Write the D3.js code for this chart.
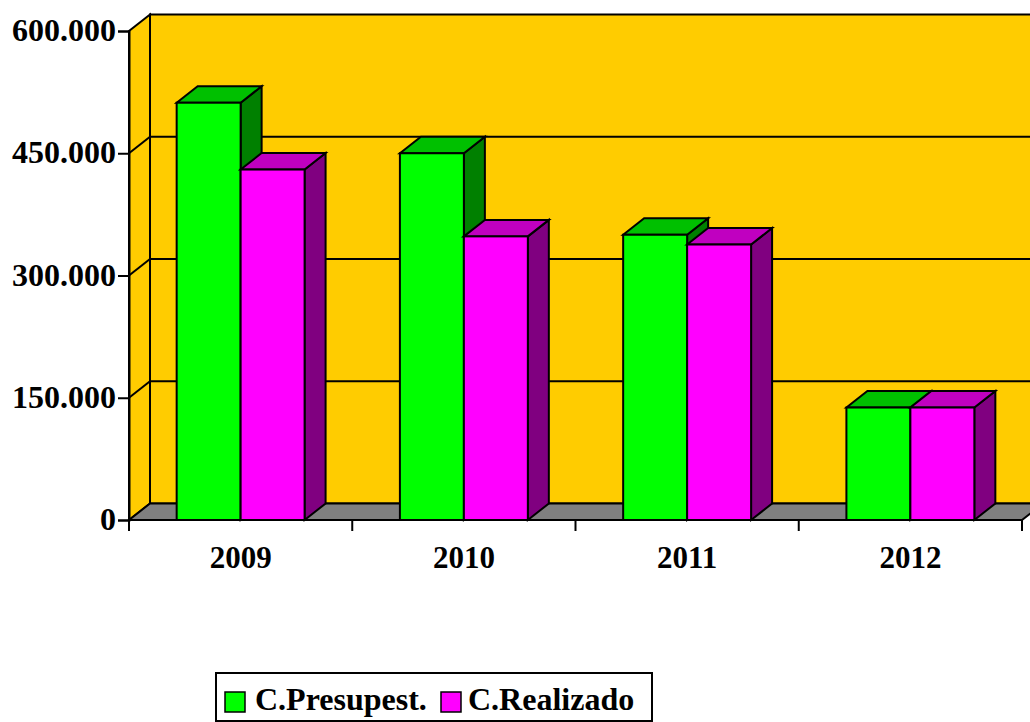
<!DOCTYPE html>
<html>
<head>
<meta charset="utf-8">
<script src="https://cdn.jsdelivr.net/npm/d3@7"></script>
<style>
  html, body { margin: 0; padding: 0; background: #ffffff; }
  svg { display: block; }
  text { font-family: "Liberation Serif", "Times New Roman", serif; font-weight: bold; fill: #000; }
</style>
</head>
<body>
<svg id="chart" width="1030" height="722"></svg>
<script>
// Budgeted vs. executed amounts per year
const years = ["2009", "2010", "2011", "2012"];
const seriesNames = ["C.Presupest.", "C.Realizado"];
const presupuestado = [512000, 450000, 350000, 138000];
const realizado = [430000, 348000, 338000, 138000];
const yTicks = [0, 150000, 300000, 450000, 600000];

// Face colours for each series: front, top, side
const palette = {
  "C.Presupest.": { front: "#00FF00", top: "#00C000", side: "#008000" },
  "C.Realizado": { front: "#FF00FF", top: "#C000C0", side: "#800080" }
};

const svg = d3.select("#chart");
const plotLeft = 129, plotRight = 1022, plotTop = 31, plotBottom = 520;
const dx = 21, dy = -16.5; // depth offset of the 3D box

const x0 = d3.scaleBand().domain(years).range([plotLeft, plotRight]).padding(0);
const bw = x0.bandwidth();
const gap = bw * 0.2135;
const x1 = d3.scaleBand().domain(seriesNames).range([gap, bw - gap]).padding(0);
const y = d3.scaleLinear().domain([0, 600000]).range([plotBottom, plotTop]);

const locale = d3.formatLocale({ decimal: ",", thousands: ".", grouping: [3], currency: ["", ""] });
const fmt = locale.format(",d");

const sw = 2;

// Back wall
svg.append("rect")
  .attr("x", plotLeft + dx).attr("y", plotTop + dy)
  .attr("width", plotRight - plotLeft + dx).attr("height", plotBottom - plotTop)
  .attr("fill", "#FFCC00").attr("stroke", "#000").attr("stroke-width", sw);

// Left side wall
svg.append("polygon")
  .attr("points", [[plotLeft, plotBottom], [plotLeft, plotTop], [plotLeft + dx, plotTop + dy], [plotLeft + dx, plotBottom + dy]].join(" "))
  .attr("fill", "#FFCC00").attr("stroke", "#000").attr("stroke-width", sw);

// Floor
svg.append("polygon")
  .attr("points", [[plotLeft, plotBottom], [plotLeft + dx, plotBottom + dy], [plotRight + dx, plotBottom + dy], [plotRight, plotBottom]].join(" "))
  .attr("fill", "#808080").attr("stroke", "#000").attr("stroke-width", sw);

// Gridlines on the back and side walls
const grid = svg.append("g").attr("stroke", "#000").attr("stroke-width", sw).attr("fill", "none");
yTicks.filter(t => t > 0 && t < 600000).forEach(t => {
  const yy = y(t);
  grid.append("line").attr("x1", plotLeft + dx).attr("x2", plotRight + dx + 20).attr("y1", yy + dy).attr("y2", yy + dy);
  grid.append("line").attr("x1", plotLeft).attr("x2", plotLeft + dx).attr("y1", yy).attr("y2", yy + dy);
});

// Bars
const data = years.map((yr, i) => ({
  year: yr,
  values: [
    { name: seriesNames[0], value: presupuestado[i] },
    { name: seriesNames[1], value: realizado[i] }
  ]
}));

const bars = svg.append("g");
data.forEach(d => {
  d.values.forEach(v => {
    const xa = x0(d.year) + x1(v.name);
    const xb = xa + x1.bandwidth();
    const yt = y(v.value);
    const c = palette[v.name];
    const g = bars.append("g").attr("stroke", "#000").attr("stroke-width", sw).attr("stroke-linejoin", "miter");
    g.append("polygon")
      .attr("points", [[xb, yt], [xb + dx, yt + dy], [xb + dx, plotBottom + dy], [xb, plotBottom]].join(" "))
      .attr("fill", c.side);
    g.append("polygon")
      .attr("points", [[xa, yt], [xa + dx, yt + dy], [xb + dx, yt + dy], [xb, yt]].join(" "))
      .attr("fill", c.top);
    g.append("rect")
      .attr("x", xa).attr("y", yt).attr("width", xb - xa).attr("height", plotBottom - yt)
      .attr("fill", c.front);
  });
});

// Y axis
const yAxis = svg.append("g")
  .attr("transform", `translate(${plotLeft},0)`)
  .call(d3.axisLeft(y).tickValues(yTicks).tickFormat(fmt).tickSize(11).tickPadding(2));
yAxis.select(".domain").attr("stroke", "#000").attr("stroke-width", sw);
yAxis.selectAll(".tick line").attr("stroke", "#000").attr("stroke-width", sw);
yAxis.selectAll(".tick text")
  .attr("font-size", 32).attr("font-family", "Liberation Serif, Times New Roman, serif")
  .attr("font-weight", "bold").attr("fill", "#000").attr("dy", "0.3em");

// X axis
const xAxis = svg.append("g")
  .attr("transform", `translate(0,${plotBottom})`)
  .call(d3.axisBottom(x0).tickSize(0).tickPadding(0));
xAxis.select(".domain").remove();
xAxis.selectAll(".tick text")
  .attr("font-size", 31).attr("font-family", "Liberation Serif, Times New Roman, serif")
  .attr("font-weight", "bold").attr("fill", "#000").attr("y", 48).attr("dy", 0);
svg.append("line").attr("x1", plotLeft).attr("x2", plotRight).attr("y1", plotBottom).attr("y2", plotBottom)
  .attr("stroke", "#000").attr("stroke-width", sw);
// Category separators below the floor
const sepX = years.map(yr => x0(yr)).concat([plotRight]);
svg.append("g").selectAll("line").data(sepX).join("line")
  .attr("x1", d => d).attr("x2", d => d).attr("y1", plotBottom).attr("y2", plotBottom + 11)
  .attr("stroke", "#000").attr("stroke-width", sw);

// Legend
const legend = svg.append("g").attr("transform", "translate(216,673)");
legend.append("rect").attr("x", 0).attr("y", 0).attr("width", 436).attr("height", 48)
  .attr("fill", "#fff").attr("stroke", "#000").attr("stroke-width", sw);
const legendItems = [
  { name: seriesNames[0], x: 9, tx: 39 },
  { name: seriesNames[1], x: 225, tx: 252 }
];
legendItems.forEach(it => {
  legend.append("rect").attr("x", it.x).attr("y", 19).attr("width", 20).attr("height", 20)
    .attr("fill", palette[it.name].front).attr("stroke", "#000").attr("stroke-width", 1.5);
  legend.append("text").attr("x", it.tx).attr("y", 37).attr("font-size", 32).text(it.name);
});
</script>
</body>
</html>
